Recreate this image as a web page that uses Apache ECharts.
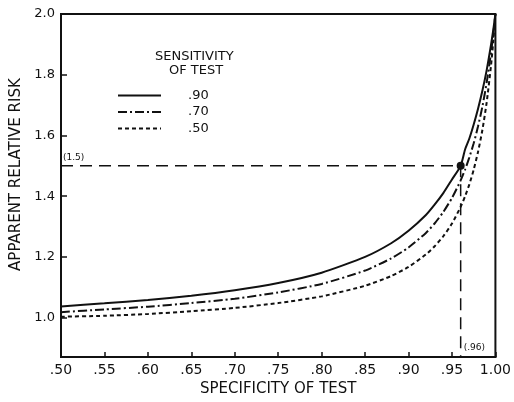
<!DOCTYPE html>
<html>
<head>
<meta charset="utf-8">
<script src="https://cdn.jsdelivr.net/npm/echarts@6/dist/echarts.min.js"></script>
<style>
  html, body { margin: 0; padding: 0; background: #fff; }
  #chart { width: 514px; height: 402px; }
</style>
</head>
<body>
<div id="chart"></div>
<script>
  // values
  const specificity = [0.50, 0.55, 0.60, 0.65, 0.70, 0.75, 0.80, 0.85, 0.88, 0.90, 0.92, 0.93, 0.94, 0.95, 0.96, 0.965, 0.97, 0.975, 0.98, 0.985, 0.99, 0.995, 0.9975, 1.00];
  const sens90 = [1.037, 1.047, 1.058, 1.072, 1.090, 1.114, 1.148, 1.200, 1.245, 1.286, 1.338, 1.372, 1.410, 1.455, 1.500, 1.553, 1.590, 1.636, 1.688, 1.747, 1.816, 1.900, 1.947, 2.00];
  const sens70 = [1.018, 1.027, 1.036, 1.048, 1.062, 1.083, 1.111, 1.155, 1.195, 1.231, 1.279, 1.310, 1.348, 1.394, 1.452, 1.487, 1.528, 1.574, 1.630, 1.695, 1.775, 1.874, 1.933, 2.00];
  const sens50 = [1.003, 1.006, 1.012, 1.021, 1.032, 1.048, 1.070, 1.105, 1.137, 1.167, 1.208, 1.235, 1.268, 1.310, 1.365, 1.399, 1.439, 1.487, 1.546, 1.618, 1.710, 1.832, 1.909, 2.00];
  const seriesNames = ['.90', '.70', '.50'];
  const yTicks = [1.0, 1.2, 1.4, 1.6, 1.8, 2.0];
  const refPoint = [0.96, 1.5];
  const refLabels = ['(1.5)', '(.96)'];

  const ink = '#111';
  const font = 'DejaVu Sans';

  const pair = (ys) => specificity.map((x, i) => [x, ys[i]]);

  const curve = (name, ys, dash) => ({
    name: name,
    type: 'line',
    data: pair(ys),
    symbol: 'none',
    smooth: 0.2,
    lineStyle: { color: ink, width: 2, type: dash },
    itemStyle: { color: ink },
    z: 3
  });

  const myChart = echarts.init(document.getElementById('chart'));

  let option = {
    animation: false,
    backgroundColor: '#fff',
    textStyle: { fontFamily: font, color: ink },
    grid: {
      left: 61, right: 15, top: 14, bottom: 39,
      show: true, borderColor: ink, borderWidth: 2, backgroundColor: 'transparent'
    },
    graphic: [
      {
        type: 'text', left: 155, top: 50,
        style: { text: 'SENSITIVITY', fontFamily: font, fontSize: 13, fill: ink }
      },
      {
        type: 'text', left: 169, top: 64,
        style: { text: 'OF TEST', fontFamily: font, fontSize: 13, fill: ink }
      }
    ],
    legend: {
      data: seriesNames,
      orient: 'vertical',
      left: 112,
      top: 84,
      itemWidth: 43,
      itemHeight: 14,
      itemGap: 3.5,
      itemStyle: { opacity: 0 },
      textStyle: { fontFamily: font, fontSize: 13, color: ink, padding: [0, 0, 0, 22] }
    },
    xAxis: {
      type: 'value',
      min: 0.5,
      max: 1.0,
      interval: 0.05,
      name: 'SPECIFICITY OF TEST',
      nameLocation: 'middle',
      nameGap: 24,
      nameTextStyle: { fontFamily: font, fontSize: 15, color: ink },
      axisLine: { show: true, lineStyle: { color: ink, width: 2 } },
      axisTick: { show: true, inside: true, length: 5, lineStyle: { color: ink, width: 1.5 } },
      axisLabel: {
        fontFamily: font, fontSize: 14, color: ink, margin: 6,
        showMinLabel: true, showMaxLabel: true,
        formatter: (v) => v >= 0.999 ? '1.00' : '.' + String(Math.round(v * 100)).padStart(2, '0')
      },
      splitLine: { show: false }
    },
    yAxis: {
      type: 'value',
      min: 0.87,
      max: 2.0,
      name: 'APPARENT RELATIVE RISK',
      nameLocation: 'middle',
      nameRotate: 90,
      nameGap: 36,
      nameTextStyle: { fontFamily: font, fontSize: 15, color: ink, padding: [0, 0, 0, 22] },
      axisLine: { show: true, lineStyle: { color: ink, width: 2 } },
      axisTick: { show: true, inside: true, length: 6, customValues: yTicks, lineStyle: { color: ink, width: 1.5 } },
      axisLabel: {
        fontFamily: font, fontSize: 13, color: ink, margin: 6,
        customValues: yTicks,
        formatter: (v) => v.toFixed(1)
      },
      splitLine: { show: false }
    },
    series: [
      curve(seriesNames[0], sens90, 'solid'),
      curve(seriesNames[1], sens70, [9, 3, 2, 3]),
      curve(seriesNames[2], sens50, [4, 3]),
      {
        name: 'ref',
        type: 'line',
        data: [[0.5, refPoint[1]], refPoint, [refPoint[0], 0.87]],
        symbol: 'none',
        lineStyle: { color: ink, width: 1.5, type: [12, 7] },
        z: 2
      },
      {
        name: 'mark',
        type: 'scatter',
        z: 5,
        itemStyle: { color: ink, opacity: 1 },
        data: [
          { value: refPoint, symbolSize: 8 },
          {
            value: [0.5, refPoint[1]], symbolSize: 0,
            label: { show: true, formatter: refLabels[0], position: [2, -13], fontSize: 9, color: ink, fontFamily: font }
          },
          {
            value: [refPoint[0], 0.87], symbolSize: 0,
            label: { show: true, formatter: refLabels[1], position: [3, -14], fontSize: 9, color: ink, fontFamily: font }
          }
        ]
      }
    ]
  };

  myChart.setOption(option);
</script>
</body>
</html>
